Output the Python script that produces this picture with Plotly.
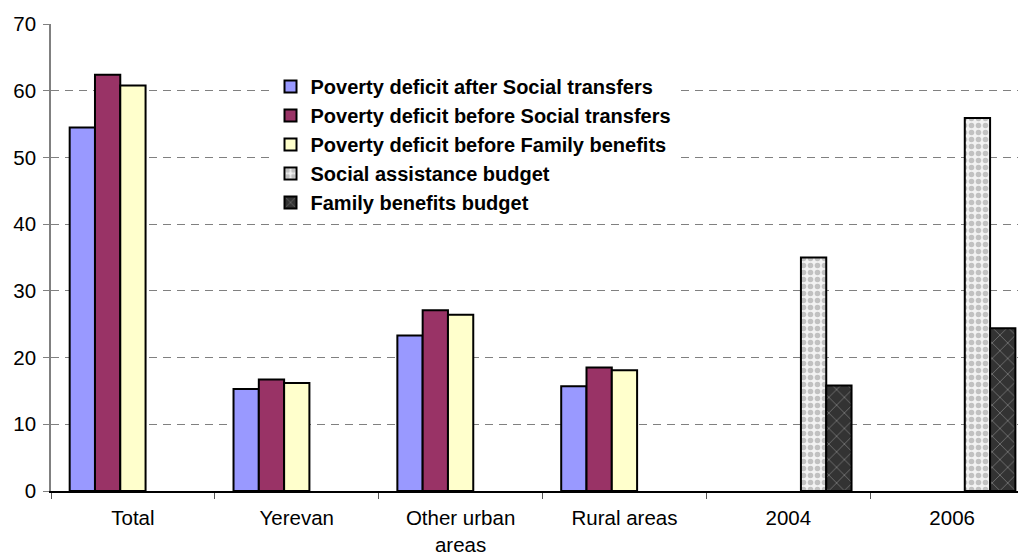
import plotly.graph_objects as go

# Categories and series values (per cent / index units)
categories = ["Total", "Yerevan", "Other urban<br>areas", "Rural areas", "2004", "2006"]

after_social = [54.5, 15.3, 23.3, 15.7, None, None]
before_social = [62.4, 16.7, 27.1, 18.5, None, None]
before_family = [60.8, 16.2, 26.4, 18.1, None, None]
social_budget = [None, None, None, None, 35.0, 55.9]
family_budget = [None, None, None, None, 15.8, 24.4]

series_names = [
    "Poverty deficit after Social transfers",
    "Poverty deficit before Social transfers",
    "Poverty deficit before Family benefits",
    "Social assistance budget",
    "Family benefits budget",
]

FONT = "Arial, Liberation Sans, sans-serif"
outline = dict(color="black", width=2)

fig = go.Figure()
fig.add_bar(x=categories, y=after_social, name=series_names[0],
            marker=dict(color="#9999FF", line=outline))
fig.add_bar(x=categories, y=before_social, name=series_names[1],
            marker=dict(color="#993366", line=outline))
fig.add_bar(x=categories, y=before_family, name=series_names[2],
            marker=dict(color="#FFFFCC", line=outline))
fig.add_bar(x=categories, y=social_budget, name=series_names[3],
            marker=dict(color="#F2F2F2", line=outline,
                        pattern=dict(shape=".", fgcolor="#909090", bgcolor="#F2F2F2",
                                     size=7, solidity=0.5)))
fig.add_bar(x=categories, y=family_budget, name=series_names[4],
            marker=dict(color="#333333", line=outline,
                        pattern=dict(shape="x", fgcolor="#B8B8B8", bgcolor="#333333",
                                     size=11, solidity=0.15)))

fig.update_layout(
    width=1018, height=556,
    margin=dict(l=51, r=0, t=24, b=65),
    paper_bgcolor="white", plot_bgcolor="white",
    barmode="group", bargap=0.228, bargroupgap=0,
    font=dict(family=FONT, size=20, color="black"),
    showlegend=True,
    legend=dict(
        x=0.227, y=0.908, xanchor="left", yanchor="top",
        bgcolor="white", borderwidth=0,
        font=dict(family=FONT, size=20, color="black", weight="bold"),
        tracegroupgap=0, itemwidth=30,
    ),
)

fig.update_xaxes(
    range=[-0.5, 5.402],
    showline=True, linecolor="black", linewidth=1.5,
    ticks="outside", tickson="boundaries", ticklen=6, tickcolor="#555555",
    tickfont=dict(family=FONT, size=20.5, color="black"),
    ticklabelstandoff=8,
    showgrid=False, zeroline=False,
)
fig.update_yaxes(
    range=[0, 70], dtick=10,
    showline=True, linecolor="#808080", linewidth=1.5,
    ticks="outside", ticklen=6, tickcolor="#808080",
    tickfont=dict(family=FONT, size=20.5, color="black"),
    ticklabelstandoff=3,
    showgrid=True, gridcolor="#808080", gridwidth=1.2, griddash="8px,6px",
    zeroline=False,
)

fig.write_html("out.html")
